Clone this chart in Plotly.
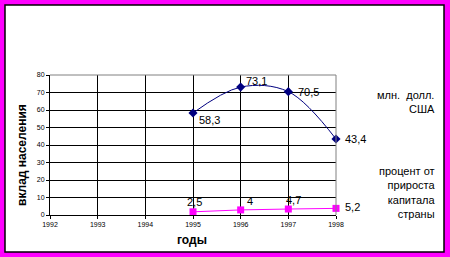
import plotly.graph_objects as go

years = [1992, 1993, 1994, 1995, 1996, 1997, 1998]
dep_years = [1995, 1996, 1997, 1998]
deposits = [58.3, 73.1, 70.5, 43.4]          # млн. долл. США
growth = [2.5, 4, 4.7, 5.2]                  # процент от прироста капитала страны
dep_labels = ["58,3", "73,1", "70,5", "43,4"]
gr_labels = ["2,5", "4", "4,7", "5,2"]
y_title = "вклад населения"
x_title = "годы"
legend1 = "млн.  долл.<br>США"
legend2 = "процент от<br>прироста<br>капитала<br>страны"

W, H = 450, 257
L, R, T, B = 50, 114, 75, 42
PW, PH = W - L - R, H - T - B
FONT = "Arial, Liberation Sans, sans-serif"

def px(x):
    return (x - L) / PW

def py(y):
    return 1 - (y - T) / PH

fig = go.Figure()
fig.add_trace(go.Scatter(
    x=dep_years, y=deposits, mode="lines+markers",
    line=dict(color="#000080", width=1, shape="spline", smoothing=1.0),
    marker=dict(symbol="diamond", size=7, color="#000080"),
    cliponaxis=False, hoverinfo="skip"))
fig.add_trace(go.Scatter(
    x=dep_years, y=growth, mode="lines+markers", yaxis="y2",
    line=dict(color="#FF00FF", width=1),
    marker=dict(symbol="square", size=7, color="#FF00FF"),
    cliponaxis=False, hoverinfo="skip"))

ann = []
dep_off = [(4, -7, "left"), (3, 6, "left"), (8, 0, "left"), (7, 0, "left")]
for xv, yv, t, (dx, dy, xa) in zip(dep_years, deposits, dep_labels, dep_off):
    ann.append(dict(x=xv, y=yv, xref="x", yref="y", text=t, showarrow=False,
                    xanchor=xa, yanchor="middle", xshift=dx, yshift=dy,
                    font=dict(family=FONT, size=11, color="black")))
gr_off = [(1, 10, "center"), (9, 9, "center"), (5, 9, "center"), (7, 1, "left")]
for xv, yv, t, (dx, dy, xa) in zip(dep_years, growth, gr_labels, gr_off):
    ann.append(dict(x=xv, y=yv, xref="x", yref="y2", text=t, showarrow=False,
                    xanchor=xa, yanchor="middle", xshift=dx, yshift=dy,
                    font=dict(family=FONT, size=11, color="black")))

ann.append(dict(x=px(22), y=py(155), xref="paper", yref="paper", text=y_title,
                textangle=-90, showarrow=False, xanchor="center", yanchor="middle",
                font=dict(family=FONT, size=12, color="black", weight="bold")))
ann.append(dict(x=px(191.5), y=py(240), xref="paper", yref="paper", text=x_title,
                showarrow=False, xanchor="center", yanchor="middle",
                font=dict(family=FONT, size=12, color="black", weight="bold")))
ann.append(dict(x=px(437), y=py(102), xref="paper", yref="paper", text=legend1,
                showarrow=False, xanchor="right", yanchor="middle", align="right",
                font=dict(family=FONT, size=11, color="black")))
ann.append(dict(x=px(437), y=py(192.5), xref="paper", yref="paper", text=legend2,
                showarrow=False, xanchor="right", yanchor="middle", align="right",
                font=dict(family=FONT, size=11, color="black")))

shapes = [
    dict(type="rect", xref="paper", yref="paper", x0=px(5), x1=px(444),
         y0=py(252), y1=py(5), fillcolor="white", line=dict(color="black", width=1.5),
         layer="below"),
    dict(type="line", xref="paper", yref="paper", x0=0, x1=1, y0=1, y1=1,
         line=dict(color="#808080", width=1), layer="above"),
    dict(type="line", xref="paper", yref="paper", x0=1, x1=1, y0=0, y1=1,
         line=dict(color="#808080", width=1), layer="above"),
]

fig.update_layout(
    width=W, height=H, margin=dict(l=L, r=R, t=T, b=B, pad=0),
    paper_bgcolor="#FF00FF", plot_bgcolor="rgba(0,0,0,0)",
    showlegend=False, annotations=ann, shapes=shapes,
    xaxis=dict(range=[years[0], years[-1]], tickvals=years,
               ticktext=[str(y) for y in years], showgrid=True, gridcolor="black",
               gridwidth=1, showline=True, linecolor="black", linewidth=1,
               ticks="outside", ticklen=3, tickcolor="black", zeroline=False,
               tickfont=dict(family=FONT, size=7, color="black"), fixedrange=True),
    yaxis=dict(range=[0, 80], dtick=10, showgrid=True, gridcolor="black", gridwidth=1,
               showline=True, linecolor="black", linewidth=1, ticks="outside",
               ticklen=3, tickcolor="black", zeroline=False,
               tickfont=dict(family=FONT, size=7, color="black"), fixedrange=True),
    yaxis2=dict(range=[0, 110], overlaying="y", side="right", visible=False,
                fixedrange=True),
)

fig.write_html("out.html")
